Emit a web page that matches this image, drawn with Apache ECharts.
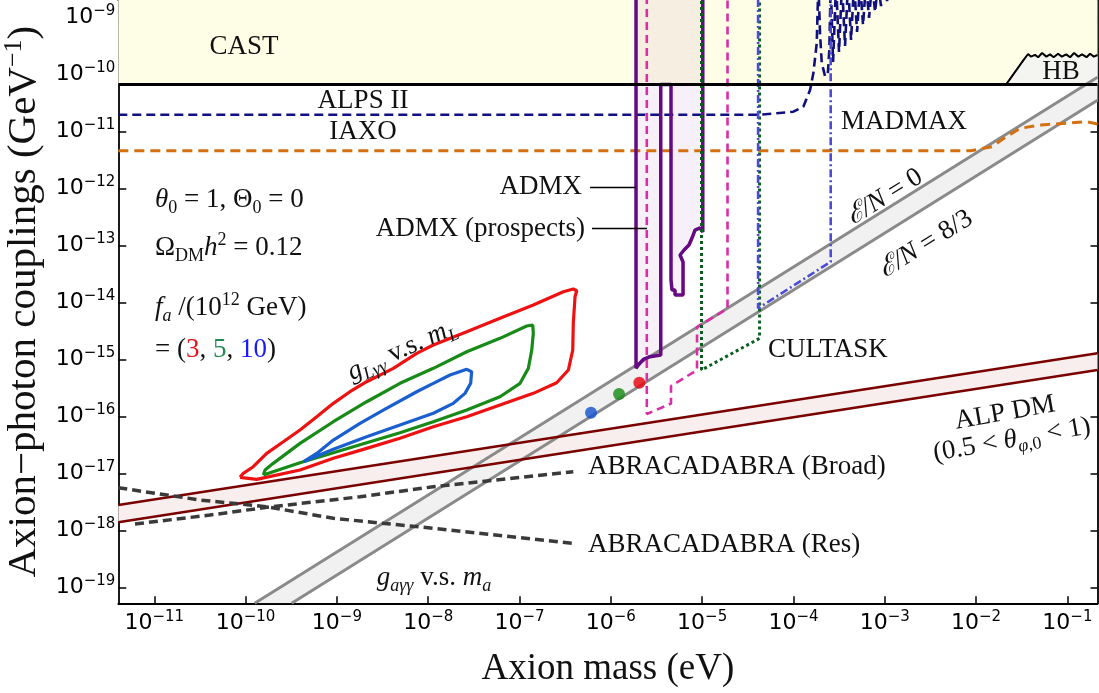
<!DOCTYPE html>
<html><head><meta charset="utf-8">
<script src="https://cdn.jsdelivr.net/npm/echarts@6/dist/echarts.min.js"></script>
<style>html,body{margin:0;padding:0;background:#fff}#c{width:1099px;height:693px}</style>
</head><body><div id="c"></div>
<script>
// All values are log10(mass / eV) and log10(coupling / GeV^-1)
const X_RANGE = [-11.394, -0.670];
const Y_RANGE = [-19.28, -8.6965];
const X_TICKS = [-11, -10, -9, -8, -7, -6, -5, -4, -3, -2, -1];
const Y_TICKS = [-19, -18, -17, -16, -15, -14, -13, -12, -11, -10, -9];

const CAST = [[-11.394, -10.18], [-0.670, -10.18]];
const HB = [[-1.672, -10.18], [-1.477, -9.742], [-1.430, -9.644], [-1.400, -9.690], [-1.354, -9.660], [-1.320, -9.700], [-1.277, -9.626], [-1.230, -9.690], [-1.190, -9.650], [-1.150, -9.700], [-1.102, -9.640], [-1.060, -9.690], [-1.014, -9.650], [-0.970, -9.700], [-0.927, -9.626], [-0.880, -9.690], [-0.839, -9.650], [-0.790, -9.700], [-0.751, -9.640], [-0.710, -9.690], [-0.670, -9.661]];
const ALPS_II = [[-11.394, -10.71], [-4.366, -10.71], [-4.001, -10.656], [-3.892, -10.568], [-3.818, -10.275], [-3.782, -9.982], [-3.745, -9.456], [-3.727, -8.4], [-3.709, -9.275], [-3.690, -9.802], [-3.654, -10.030], [-3.624, -10.012], [-3.607, -9.574], [-3.592, -8.4], [-3.566, -9.784], [-3.533, -8.4], [-3.501, -9.609], [-3.468, -8.4], [-3.435, -9.504], [-3.402, -8.4], [-3.369, -9.398], [-3.336, -8.4], [-3.303, -9.258], [-3.270, -8.4], [-3.238, -9.135], [-3.205, -8.4], [-3.172, -9.012], [-3.139, -8.4], [-3.106, -8.907], [-3.073, -8.4], [-3.041, -8.802], [-3.008, -8.4], [-2.975, -8.714], [-2.940, -8.4]];
const IAXO = [[-11.394, -11.34], [-2.055, -11.34], [-1.824, -11.270], [-1.670, -11.095], [-1.516, -10.947], [-1.286, -10.889], [-0.786, -10.832], [-0.670, -10.872]];
const ADMX = [[-5.724, -8.4], [-5.724, -15.158], [-5.699, -15.100], [-5.644, -15.0], [-5.571, -14.954], [-5.453, -14.925], [-5.453, -10.18], [-5.341, -10.18], [-5.341, -13.609], [-5.330, -13.784], [-5.297, -13.784], [-5.297, -13.872], [-5.209, -13.872], [-5.209, -13.293], [-5.242, -13.170], [-5.198, -13.082], [-5.144, -12.995], [-5.111, -12.872], [-5.078, -12.732], [-5.023, -12.696], [-4.993, -12.767], [-4.993, -8.4]];
const ADMX_PROSPECTS = [[-5.606, -8.4], [-5.606, -15.960], [-5.341, -15.775], [-5.341, -15.468], [-5.056, -15.188], [-5.056, -14.434], [-4.722, -14.109], [-4.722, -8.4]];
const CULTASK = [[-5.007, -8.4], [-5.007, -15.188], [-4.371, -14.632], [-4.371, -8.4]];
const MADMAX = [[-4.387, -8.4], [-4.387, -14.105], [-3.592, -13.288], [-3.592, -8.4]];
const QCD_EN0 = [[-9.90, -19.28], [-0.670, -10.05]];
const QCD_EN83 = [[-9.495, -19.28], [-0.670, -10.455]];
const ALP_DM_UP = [[-11.394, -17.556], [-0.670, -14.895]];
const ALP_DM_LO = [[-11.394, -17.860], [-0.670, -15.188]];
const ABRA_BROAD = [[-11.211, -17.889], [-10.390, -17.732], [-9.769, -17.596], [-8.747, -17.411], [-7.944, -17.235], [-6.411, -16.972]];
const ABRA_RES = [[-11.394, -17.253], [-10.499, -17.468], [-9.769, -17.586], [-9.039, -17.789], [-7.944, -17.965], [-6.411, -18.228]];
const CONTOUR_FA3 = [[-10.061, -17.070], [-9.878, -17.105], [-9.404, -16.942], [-9.039, -16.737], [-8.674, -16.562], [-8.309, -16.386], [-7.944, -16.183], [-7.578, -16.007], [-7.214, -15.802], [-6.849, -15.597], [-6.593, -15.411], [-6.465, -15.188], [-6.417, -14.837], [-6.411, -14.368], [-6.392, -13.902], [-6.373, -13.796], [-6.411, -13.767], [-6.520, -13.814], [-6.849, -14.047], [-7.214, -14.281], [-7.578, -14.516], [-7.944, -14.749], [-8.126, -14.895], [-8.382, -15.158], [-8.674, -15.393], [-8.857, -15.568], [-9.039, -15.772], [-9.221, -16.007], [-9.404, -16.240], [-9.587, -16.446], [-9.769, -16.649], [-9.916, -16.884], [-10.025, -17.0], [-10.061, -17.070]];
const CONTOUR_FA5 = [[-9.806, -17.030], [-9.404, -16.814], [-9.039, -16.639], [-8.674, -16.463], [-8.309, -16.288], [-7.944, -16.095], [-7.578, -15.890], [-7.214, -15.656], [-6.994, -15.421], [-6.903, -15.158], [-6.866, -14.837], [-6.849, -14.544], [-6.855, -14.398], [-6.921, -14.416], [-7.214, -14.632], [-7.578, -14.867], [-7.944, -15.158], [-8.309, -15.421], [-8.674, -15.744], [-9.039, -16.095], [-9.404, -16.474], [-9.697, -16.825], [-9.787, -16.942], [-9.806, -17.030]];
const CONTOUR_FA10 = [[-9.368, -16.797], [-9.221, -16.650], [-9.039, -16.416], [-8.747, -16.123], [-8.492, -15.890], [-8.126, -15.569], [-7.944, -15.421], [-7.761, -15.276], [-7.578, -15.176], [-7.524, -15.218], [-7.535, -15.421], [-7.597, -15.597], [-7.725, -15.772], [-7.944, -15.947], [-8.309, -16.153], [-8.674, -16.358], [-9.039, -16.579], [-9.368, -16.797]];
const BENCHMARKS = [[-5.688, -15.411], [-5.910, -15.609], [-6.217, -15.937]];
const BENCH_COLORS = ['#e8000b', '#138a13', '#1150d0'];

const SERIF = 'Liberation Serif';
function st(size, extra) {
  const o = {fontFamily: SERIF, fontSize: size, lineHeight: size <= 18 ? 18 : 34, fill: '#111', color: '#111'};
  for (const k in (extra || {})) o[k] = extra[k];
  return o;
}
const R = {
  n: st(27),
  i: st(27, {fontStyle: 'italic'}),
  sub: st(18, {verticalAlign: 'bottom'}),
  subi: st(18, {fontStyle: 'italic', verticalAlign: 'bottom'}),
  sup: st(18, {verticalAlign: 'top'}),
  r: st(27, {fill: '#e8141c', color: '#e8141c'}),
  g: st(27, {fill: '#1f8a50', color: '#1f8a50'}),
  b: st(27, {fill: '#1a1aff', color: '#1a1aff'})
};

function txt(x, y, text, align, rotDeg) {
  return {type: 'text', x: x, y: y, rotation: (rotDeg || 0) * Math.PI / 180, z: 100,
    style: {text: text, rich: R, align: align || 'left', verticalAlign: 'middle', fill: '#111'}};
}

function poly(points, fill, z) {
  return {type: 'custom', xAxisIndex: 0, yAxisIndex: 0, z: z, silent: true, clip: true, data: [0],
    renderItem: function (params, api) {
      return {type: 'polygon', shape: {points: points.map(function (p) { return api.coord(p); })}, style: {fill: fill}};
    }};
}
function line(data, color, width, type, z) {
  return {type: 'line', xAxisIndex: 0, yAxisIndex: 0, data: data, symbol: 'none', z: z || 5, silent: true, clip: true,
    lineStyle: {color: color, width: width, type: type || 'solid', cap: 'butt'}};
}

const supStyle = {fontFamily: 'DejaVu Sans', fontSize: 15, lineHeight: 15, verticalAlign: 'top', color: '#000'};
const baseStyle = {fontFamily: 'DejaVu Sans', fontSize: 22, lineHeight: 28, color: '#000'};
const tickFmt = function (v) { return '{b|10}{s|' + String(Math.round(v)).replace('-', '\u2212') + '}'; };

const chart = echarts.init(document.getElementById('c'), null, {renderer: 'canvas'});
const bandPoly = QCD_EN0.concat(QCD_EN83.slice().reverse());
const alpPoly = ALP_DM_UP.concat(ALP_DM_LO.slice().reverse());
const castPoly = CAST.concat([[CAST[1][0], Y_RANGE[1] + 0.3], [CAST[0][0], Y_RANGE[1] + 0.3]]);

const option = {
  animation: false,
  backgroundColor: '#fff',
  grid: {left: 118.3, right: 1.5, top: 0, bottom: 89.7, containLabel: false, outerBoundsMode: 'none'},
  xAxis: [
    {type: 'value', min: X_RANGE[0], max: X_RANGE[1], position: 'bottom',
      name: 'Axion mass (eV)', nameLocation: 'middle', nameGap: 46,
      nameTextStyle: {fontFamily: SERIF, fontSize: 37, lineHeight: 40, color: '#111'},
      axisLine: {lineStyle: {color: '#000', width: 1.8}},
      axisTick: {inside: true, length: 7, customValues: X_TICKS, lineStyle: {color: '#000', width: 1.5}},
      axisLabel: {customValues: X_TICKS, formatter: tickFmt, margin: 6, rich: {b: baseStyle, s: supStyle}},
      splitLine: {show: false}},
    {type: 'value', min: X_RANGE[0], max: X_RANGE[1], position: 'top',
      axisLine: {lineStyle: {color: '#000', width: 1.8}},
      axisTick: {inside: true, length: 7, customValues: X_TICKS, lineStyle: {color: '#000', width: 1.5}},
      axisLabel: {show: false}, splitLine: {show: false}}
  ],
  yAxis: [
    {type: 'value', min: Y_RANGE[0], max: Y_RANGE[1], position: 'left',
      name: '{t|Axion\u2212photon couplings (GeV}{s|\u22121}{t|)}', nameLocation: 'middle', nameGap: 60,
      nameTextStyle: {rich: {t: {fontFamily: SERIF, fontSize: 41, lineHeight: 46, color: '#111'}, s: {fontFamily: SERIF, fontSize: 26, lineHeight: 26, verticalAlign: 'top', color: '#111'}}},
      axisLine: {lineStyle: {color: '#000', width: 1.8}},
      axisTick: {inside: true, length: 8, customValues: Y_TICKS, lineStyle: {color: '#000', width: 1.5}},
      axisLabel: {customValues: Y_TICKS, formatter: tickFmt, margin: 3, rich: {b: baseStyle, s: supStyle}},
      splitLine: {show: false}},
    {type: 'value', min: Y_RANGE[0], max: Y_RANGE[1], position: 'right',
      axisLine: {lineStyle: {color: '#000', width: 1.8}},
      axisTick: {inside: true, length: 7, customValues: Y_TICKS, lineStyle: {color: '#000', width: 1.5}},
      axisLabel: {show: false}, splitLine: {show: false}}
  ],
  series: [
    poly(castPoly, '#fefde6', 1),
    poly(HB.concat([[HB[HB.length - 1][0], CAST[0][1]]]), '#f4f4f1', 2),
    poly(bandPoly, '#f1f1f1', 2),
    poly(alpPoly, '#f8eeee', 2),
    poly(ADMX, 'rgba(120,0,140,0.06)', 3),
    line(HB, '#000', 2, 'solid', 6),
    line(ALPS_II, '#101080', 2.6, [9, 5], 7),
    line(IAXO, '#d4700f', 3, [10, 6], 7),
    line(QCD_EN0, '#8a8a8a', 3, 'solid', 6),
    line(QCD_EN83, '#8a8a8a', 3, 'solid', 6),
    line(ALP_DM_UP, '#7a0000', 2.5, 'solid', 6),
    line(ALP_DM_LO, '#7a0000', 2.5, 'solid', 6),
    line(ABRA_BROAD, '#3a3a3a', 3.5, [9, 5], 7),
    line(ABRA_RES, '#3a3a3a', 3.5, [9, 5], 7),
    line(ADMX, '#650a82', 3.5, 'solid', 8),
    line(ADMX_PROSPECTS, '#d92ea8', 2.6, [8, 5], 9),
    line(CULTASK, '#0b5e20', 3, [3, 3], 9),
    line(MADMAX, '#4c4cd9', 2.6, [8, 3, 2, 3], 9),
    line(CONTOUR_FA3, '#ee1111', 3.2, 'solid', 10),
    line(CONTOUR_FA5, '#178a17', 3.2, 'solid', 10),
    line(CONTOUR_FA10, '#1a5fd0', 3.2, 'solid', 10),
    line(CAST, '#000', 3, 'solid', 11),
    {type: 'scatter', xAxisIndex: 0, yAxisIndex: 0, z: 12, silent: true, symbolSize: 12,
      data: BENCHMARKS.map(function (p, k) { return {value: p, itemStyle: {color: BENCH_COLORS[k]}}; })}
  ],
  graphic: [
    txt(244, 47, '{n|CAST}', 'center'),
    txt(1061, 72, '{n|HB}', 'center'),
    txt(363, 101, '{n|ALPS II}', 'center'),
    txt(363, 132, '{n|IAXO}', 'center'),
    txt(904, 122, '{n|MADMAX}', 'center'),
    txt(155, 200, '{i|θ}{sub|0}{n| = 1, Θ}{sub|0}{n| = 0}', 'left'),
    txt(155, 248, '{n|Ω}{sub|DM}{i|h}{sup|2}{n| = 0.12}', 'left'),
    txt(155, 308, '{i|f}{subi|a}{n| /(10}{sup|12}{n| GeV)}', 'left'),
    txt(155, 350, '{n|= (}{r|3}{n|, }{g|5}{n|, }{b|10}{n|)}', 'left'),
    txt(582, 187, '{n|ADMX}', 'right'),
    txt(585, 229, '{n|ADMX (prospects)}', 'right'),
    txt(768, 350, '{n|CULTASK}', 'left'),
    txt(1005, 413, '{n|ALP DM}', 'center', 10),
    txt(1012, 440, '{n|(0.5 < }{i|θ}{subi|φ}{sub|,0}{n| < 1)}', 'center', 10),
    txt(588, 467, '{n|ABRACADABRA (Broad)}', 'left'),
    txt(588, 545, '{n|ABRACADABRA (Res)}', 'left'),
    txt(402, 350, '{i|g}{subi|Lγγ}{n| v.s. }{i|m}{subi|L}', 'center', 24),
    txt(434, 578, '{i|g}{subi|aγγ}{n| v.s. }{i|m}{subi|a}', 'center'),
    txt(885, 197, '{i|ℰ/N}{n| = 0}', 'center', 32),
    txt(926, 244, '{i|ℰ/N}{n| = 8/3}', 'center', 32),
    {type: 'line', z: 100, shape: {x1: 590, y1: 187.5, x2: 636, y2: 187.5}, style: {stroke: '#000', lineWidth: 1.6}},
    {type: 'line', z: 100, shape: {x1: 592, y1: 228.5, x2: 647, y2: 228.5}, style: {stroke: '#000', lineWidth: 1.6}}
  ]
};
chart.setOption(option);
</script></body></html>
